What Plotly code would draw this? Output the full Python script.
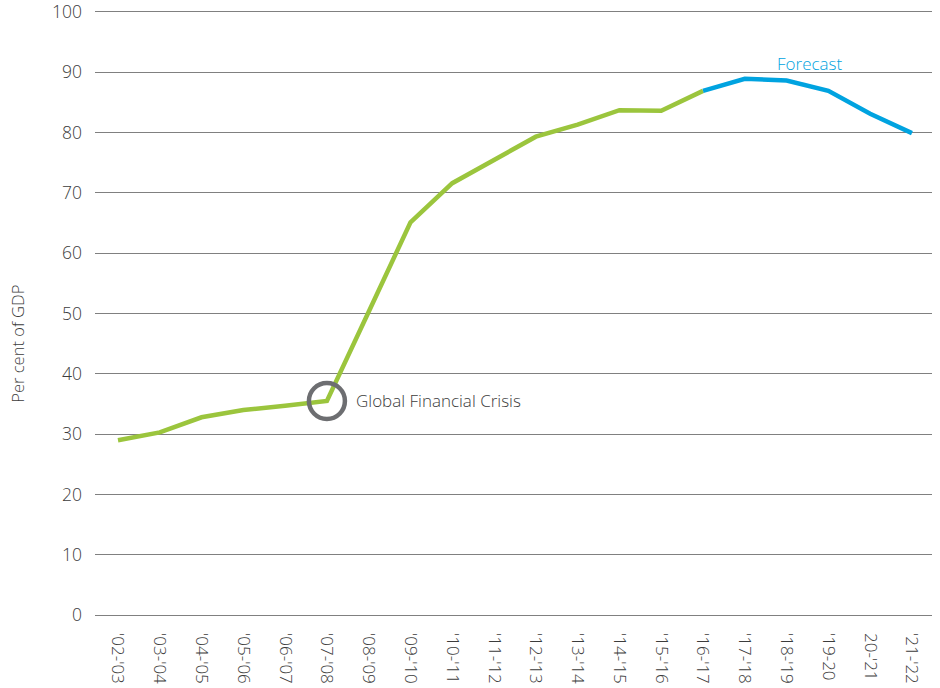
import plotly.graph_objects as go

categories = ["'02-'03", "'03-'04", "'04-'05", "'05-'06", "'06-'07", "'07-'08", "'08-'09",
              "'09-'10", "'10-'11", "'11-'12", "'12-'13", "'13-'14", "'14-'15", "'15-'16",
              "'16-'17", "'17-'18", "'18-'19", "'19-20", "20-'21", "'21-'22"]
actual = [29.0, 30.3, 32.8, 34.0, 34.7, 35.5, 50.3, 65.1, 71.6, 75.5, 79.3, 81.3, 83.7, 83.6, 86.9]
forecast = [86.9, 88.9, 88.6, 86.9, 83.1, 79.9]
y_ticks = [0, 10, 20, 30, 40, 50, 60, 70, 80, 90, 100]

FONT = "Open Sans"
TXT = "#3c3c3c"
x_idx = list(range(len(categories)))
n_act = len(actual)

fig = go.Figure()
fig.add_trace(go.Scatter(x=x_idx[:n_act], y=actual, mode="lines",
                         line=dict(color="#9BC53D", width=4.5), hoverinfo="skip"))
fig.add_trace(go.Scatter(x=x_idx[n_act - 1:], y=forecast, mode="lines",
                         line=dict(color="#00A3E0", width=4.5), hoverinfo="skip"))
gfc = categories.index("'07-'08")
fig.add_trace(go.Scatter(x=[gfc], y=[actual[gfc]], mode="markers",
                         marker=dict(size=36, color="rgba(0,0,0,0)",
                                     line=dict(color="#6D6E71", width=4.5)),
                         hoverinfo="skip"))

fig.add_annotation(x=gfc, y=actual[gfc], xref="x", yref="y", text="Global Financial Crisis",
                   showarrow=False, xanchor="left", xshift=27, yshift=0,
                   font=dict(family=FONT, size=17, color=TXT, weight=300))
fig.add_annotation(x=16.55, y=91.5, xref="x", yref="y", text="Forecast",
                   showarrow=False, xanchor="center",
                   font=dict(family=FONT, size=17, color="#00A3E0", weight=300))
# y-axis title
fig.add_annotation(x=0, y=45, xref="paper", yref="y", text="Per cent of GDP",
                   showarrow=False, textangle=-90, xanchor="center", yanchor="middle",
                   xshift=-77,
                   font=dict(family=FONT, size=16.5, color=TXT, weight=300))

fig.update_layout(
    width=940, height=688,
    margin=dict(l=95, r=8, t=10, b=71),
    paper_bgcolor="white", plot_bgcolor="white",
    showlegend=False,
    font=dict(family=FONT, color=TXT),
)
fig.update_xaxes(
    range=[-0.55, 19.48], tickmode="array", tickvals=x_idx, ticktext=categories,
    tickangle=90, showgrid=False, zeroline=False, showline=False, automargin=False,
    tickfont=dict(family=FONT, size=17, color=TXT, weight=300),
    ticks="", ticklabelstandoff=15, ticklabeloverflow="allow",
)
fig.update_yaxes(
    range=[-0.3, 100.3], tickmode="array", tickvals=y_ticks, automargin=False,
    showgrid=True, gridcolor="#808080", gridwidth=1, zeroline=False, showline=False,
    tickfont=dict(family=FONT, size=17.5, color=TXT, weight=300),
    ticks="", ticklabelstandoff=12, ticklabeloverflow="allow",
)

fig.write_html("out.html", config={"displayModeBar": False},
               post_script="document.body.style.margin='0';")
